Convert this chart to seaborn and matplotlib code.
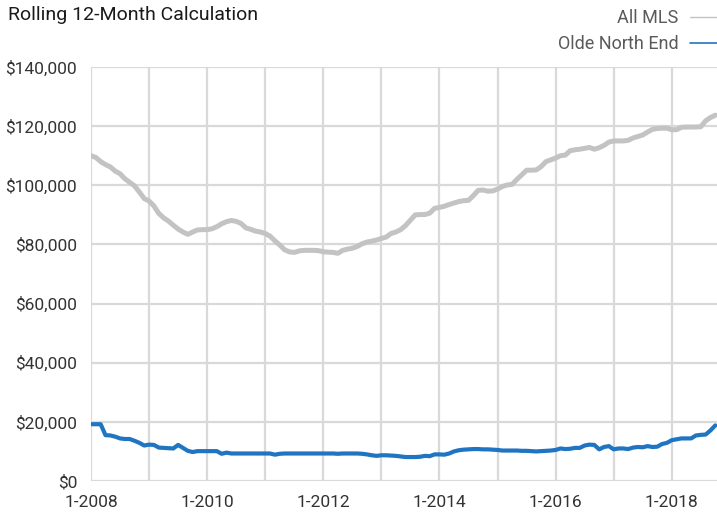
import numpy as np
import pandas as pd
import matplotlib
matplotlib.use("Agg")
import matplotlib.pyplot as plt
from matplotlib.lines import Line2D
import seaborn as sns

# monthly rolling 12-month values, Jan 2008 - Oct 2018 (in $1,000)
all_mls = [
    110.0, 109.4, 108.0, 107.0, 106.2, 104.8, 103.9, 102.2, 101.0, 99.8, 97.7, 95.5,   # 2008
    94.7, 93.0, 90.5, 89.0, 87.9, 86.5, 85.2, 84.2, 83.4, 84.2, 84.9, 85.0,          # 2009
    85.0, 85.3, 86.0, 87.0, 87.7, 88.1, 87.8, 87.1, 85.6, 85.1, 84.5, 84.2,          # 2010
    83.7, 82.8, 81.2, 79.8, 78.2, 77.5, 77.3, 77.8, 78.0, 78.0, 78.0, 77.9,          # 2011
    77.5, 77.4, 77.3, 77.0, 78.0, 78.4, 78.7, 79.3, 80.2, 80.8, 81.1, 81.5,          # 2012
    82.0, 82.5, 83.7, 84.2, 85.0, 86.4, 88.2, 90.0, 90.1, 90.1, 90.6, 92.2,          # 2013
    92.5, 92.9, 93.5, 94.0, 94.5, 94.8, 94.9, 96.5, 98.3, 98.4, 98.0, 98.1,          # 2014
    98.7, 99.6, 100.1, 100.3, 102.0, 103.5, 105.1, 105.1, 105.2, 106.3, 108.0, 108.6,  # 2015
    109.2, 110.0, 110.2, 111.7, 112.0, 112.2, 112.5, 112.8, 112.2, 112.7, 113.5, 114.6,  # 2016
    115.0, 115.0, 115.0, 115.2, 116.0, 116.5, 117.0, 118.0, 118.9, 119.2, 119.3, 119.3,  # 2017
    118.8, 118.8, 119.6, 119.7, 119.7, 119.7, 119.8, 121.8, 122.9, 123.7,              # 2018
]
olde_north_end = [
    19.2, 19.2, 19.2, 15.5, 15.4, 15.0, 14.4, 14.2, 14.2, 13.6, 12.9, 12.0,   # 2008
    12.3, 12.2, 11.3, 11.2, 11.1, 11.0, 12.2, 11.2, 10.2, 9.8, 10.1, 10.1,    # 2009
    10.1, 10.1, 10.1, 9.2, 9.6, 9.3, 9.3, 9.3, 9.3, 9.3, 9.3, 9.3,            # 2010
    9.3, 9.3, 8.9, 9.2, 9.3, 9.3, 9.3, 9.3, 9.3, 9.3, 9.3, 9.3,               # 2011
    9.3, 9.3, 9.3, 9.2, 9.3, 9.3, 9.3, 9.3, 9.2, 9.0, 8.7, 8.5,               # 2012
    8.7, 8.7, 8.6, 8.5, 8.3, 8.1, 8.1, 8.1, 8.2, 8.5, 8.4, 9.0,               # 2013
    9.0, 8.9, 9.3, 10.0, 10.4, 10.6, 10.7, 10.8, 10.8, 10.7, 10.7, 10.6,      # 2014
    10.5, 10.3, 10.3, 10.3, 10.3, 10.2, 10.2, 10.1, 10.0, 10.1, 10.2, 10.3,   # 2015
    10.5, 11.0, 10.8, 10.9, 11.2, 11.2, 12.0, 12.3, 12.2, 10.7, 11.5, 11.8,   # 2016
    10.7, 11.0, 11.0, 10.8, 11.3, 11.5, 11.4, 11.8, 11.5, 11.6, 12.5, 12.9,   # 2017
    13.8, 14.1, 14.4, 14.4, 14.4, 15.4, 15.6, 15.7, 17.1, 18.8,               # 2018
]
series_names = ["All MLS", "Olde North End"]
series_colors = ["#c3c3c3", "#1f75c1"]
years = list(range(2008, 2019))
tick_labels = [f"1-{y}" if y % 2 == 0 else "" for y in years]

month = np.arange(len(all_mls))
df = pd.concat([
    pd.DataFrame({"month": month, "value": np.array(all_mls) * 1000, "series": series_names[0]}),
    pd.DataFrame({"month": month, "value": np.array(olde_north_end) * 1000, "series": series_names[1]}),
])

sns.set_style("white")
plt.rcParams["font.family"] = ["Roboto", "DejaVu Sans"]

grid_c = "#d9d9d9"
fig = plt.figure(figsize=(7.17, 5.14), dpi=100)
ax = fig.add_axes([91 / 717, 1 - 481 / 514, (717 - 91) / 717, (481 - 67) / 514])

sns.lineplot(data=df[df.series == series_names[0]], x="month", y="value",
             color=series_colors[0], lw=3.6, ax=ax, legend=False)
sns.lineplot(data=df[df.series == series_names[1]], x="month", y="value",
             color=series_colors[1], lw=3.0, ax=ax, legend=False)

ax.set_xlim(0, 129.35)
ax.set_ylim(0, 140000)
ax.set_xticks([12 * i for i in range(len(years))])
ax.set_xticklabels(tick_labels)
ax.set_yticks(range(0, 140001, 20000))
ax.yaxis.set_major_formatter(matplotlib.ticker.FuncFormatter(lambda v, p: f"${v:,.0f}"))
ax.set_xlabel("")
ax.set_ylabel("")
ax.grid(True, color=grid_c, lw=1.6)
ax.set_axisbelow(True)
for s in ax.spines.values():
    s.set_visible(False)
ax.tick_params(axis="both", length=7, width=1.6, color=grid_c, labelsize=12.5,
               labelcolor="#333333", pad=3)

fig.text(0.011, 0.962, "Rolling 12-Month Calculation", fontsize=14, color="#1a1a1a",
         ha="left", va="baseline")

handles = [Line2D([], [], color=series_colors[0], lw=1),
           Line2D([], [], color=series_colors[1], lw=1.2)]
leg = fig.legend(handles, series_names, loc="upper right", bbox_to_anchor=(1.0, 0.982),
                 frameon=False, markerfirst=False, fontsize=13, handlelength=1.5,
                 handletextpad=0.65, labelspacing=0.42, borderaxespad=0, borderpad=0)
for t in leg.get_texts():
    t.set_color("#5a5a5a")

fig.savefig("out.png", dpi=100)
